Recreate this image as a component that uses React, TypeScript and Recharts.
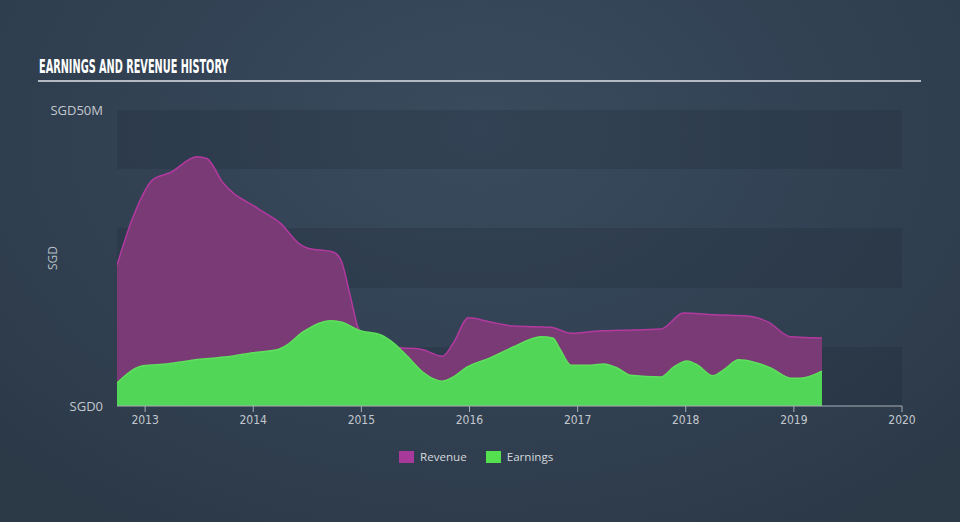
import React from 'react';
import { AreaChart, Area, XAxis, YAxis, CartesianGrid } from 'recharts';

const revenueTimes = [2012.74, 2012.89, 2013.07, 2013.23, 2013.48, 2013.57, 2013.72, 2014.04, 2014.25, 2014.44, 2014.5, 2014.74, 2014.81, 2014.9, 2014.97, 2015.11, 2015.39, 2015.55, 2015.75, 2015.85, 2015.99, 2016.19, 2016.41, 2016.75, 2016.94, 2017.21, 2017.4, 2017.77, 2017.98, 2018.26, 2018.57, 2018.76, 2018.97, 2019.26];
const revenueValues = [23.8, 32.0, 38.2, 39.4, 42.1, 41.8, 37.7, 33.4, 30.9, 27.2, 26.7, 26.0, 24.7, 18.4, 13.2, 10.3, 9.8, 9.6, 8.4, 10.6, 14.9, 14.2, 13.5, 13.3, 12.3, 12.7, 12.8, 13.0, 15.7, 15.4, 15.2, 14.2, 11.7, 11.5];

const earningsTimes = [2012.74, 2012.98, 2013.2, 2013.51, 2013.76, 2014.0, 2014.22, 2014.31, 2014.46, 2014.71, 2014.81, 2014.99, 2015.18, 2015.3, 2015.43, 2015.57, 2015.75, 2015.85, 2015.98, 2016.19, 2016.41, 2016.66, 2016.77, 2016.84, 2016.94, 2017.12, 2017.24, 2017.37, 2017.49, 2017.77, 2017.89, 2018.01, 2018.11, 2018.25, 2018.35, 2018.49, 2018.63, 2018.79, 2018.97, 2019.06, 2019.26];
const earningsValues = [3.9, 6.8, 7.1, 7.9, 8.3, 9.0, 9.5, 10.3, 12.5, 14.4, 14.2, 12.7, 12.0, 10.6, 8.3, 5.7, 4.2, 4.9, 6.6, 8.1, 10.0, 11.7, 11.5, 9.5, 6.9, 6.9, 7.1, 6.4, 5.2, 4.9, 6.6, 7.6, 6.9, 5.1, 6.1, 7.8, 7.4, 6.4, 4.7, 4.7, 5.9];

const xTicks = [2013, 2014, 2015, 2016, 2017, 2018, 2019, 2020];
const yTicks = [0, 10, 20, 30, 40, 50];
const yTickLabels: Record<number, string> = { 0: 'SGD0', 50: 'SGD50M' };

const revenueData = revenueTimes.map((t, i) => ({ t, v: revenueValues[i] }));
const earningsData = earningsTimes.map((t, i) => ({ t, v: earningsValues[i] }));

const font = '"Open Sans", "DejaVu Sans", sans-serif';
const narrow = '"Liberation Sans Narrow", "DejaVu Sans Condensed", "Roboto", sans-serif';

export default function App() {
  return (
    <div
      style={{
        position: 'absolute',
        left: 0,
        top: 0,
        width: 960,
        height: 522,
        overflow: 'hidden',
        background: 'radial-gradient(ellipse 70% 90% at 50% 25%, #3a4b5e 0%, #334355 45%, #2c3947 100%)',
        fontFamily: font,
      }}
    >
      <div
        style={{
          position: 'absolute',
          left: 39,
          top: 55,
          color: '#ffffff',
          fontFamily: narrow,
          fontWeight: 700,
          fontSize: 19,
          transform: 'scaleX(0.57)',
          transformOrigin: 'left center',
          whiteSpace: 'nowrap',
        }}
      >
        EARNINGS AND REVENUE HISTORY
      </div>
      <div style={{ position: 'absolute', left: 38, top: 80, width: 883, height: 2, background: '#b4bac2' }} />
      <div
        style={{
          position: 'absolute',
          left: 52,
          top: 258,
          color: '#b8bec6',
          fontSize: 12,
          transform: 'translate(-50%, -50%) rotate(-90deg)',
          whiteSpace: 'nowrap',
        }}
      >
        SGD
      </div>
      <AreaChart
        width={960}
        height={522}
        margin={{ top: 110, right: 58, bottom: 86, left: 0 }}
        style={{ position: 'absolute', left: 0, top: 0 }}
      >
        <CartesianGrid
          vertical={false}
          stroke="none"
          horizontalFill={['rgba(28,38,50,0.22)', 'rgba(255,255,255,0)']}
        />
        <XAxis
          dataKey="t"
          type="number"
          domain={[2012.74, 2020]}
          ticks={xTicks}
          allowDataOverflow
          height={30}
          tickSize={6}
          tickMargin={3}
          stroke="#a9b0b8"
          tick={{ fill: '#c3c8ce', fontSize: 12, fontFamily: narrow }}
          tickLine={{ stroke: '#a9b0b8' }}
          axisLine={{ stroke: '#a9b0b8', strokeWidth: 1 }}
        />
        <YAxis
          type="number"
          domain={[0, 50]}
          ticks={yTicks}
          width={117}
          axisLine={false}
          tickLine={false}
          tickSize={0}
          tickMargin={14}
          tickFormatter={(v: number) => yTickLabels[v] ?? ''}
          tick={{ fill: '#c3c8ce', fontSize: 13, fontFamily: font }}
        />
        <Area
          data={revenueData}
          dataKey="v"
          type="monotone"
          stroke="#b23a9f"
          strokeWidth={1.5}
          fill="#7a3a75"
          fillOpacity={1}
          isAnimationActive={false}
          dot={false}
          activeDot={false}
        />
        <Area
          data={earningsData}
          dataKey="v"
          type="monotone"
          stroke="#5ee05c"
          strokeWidth={1.5}
          fill="#52d657"
          fillOpacity={1}
          isAnimationActive={false}
          dot={false}
          activeDot={false}
        />
      </AreaChart>
      <div
        style={{
          position: 'absolute',
          left: 399,
          top: 449,
          display: 'flex',
          alignItems: 'center',
          fontSize: 11.6,
          color: '#d4d8dc',
          whiteSpace: 'nowrap',
        }}
      >
        <span style={{ display: 'inline-block', width: 15, height: 12, background: '#a6399a', marginRight: 6 }} />
        <span style={{ marginRight: 19 }}>Revenue</span>
        <span style={{ display: 'inline-block', width: 15, height: 12, background: '#55e04f', marginRight: 6 }} />
        <span>Earnings</span>
      </div>
    </div>
  );
}
